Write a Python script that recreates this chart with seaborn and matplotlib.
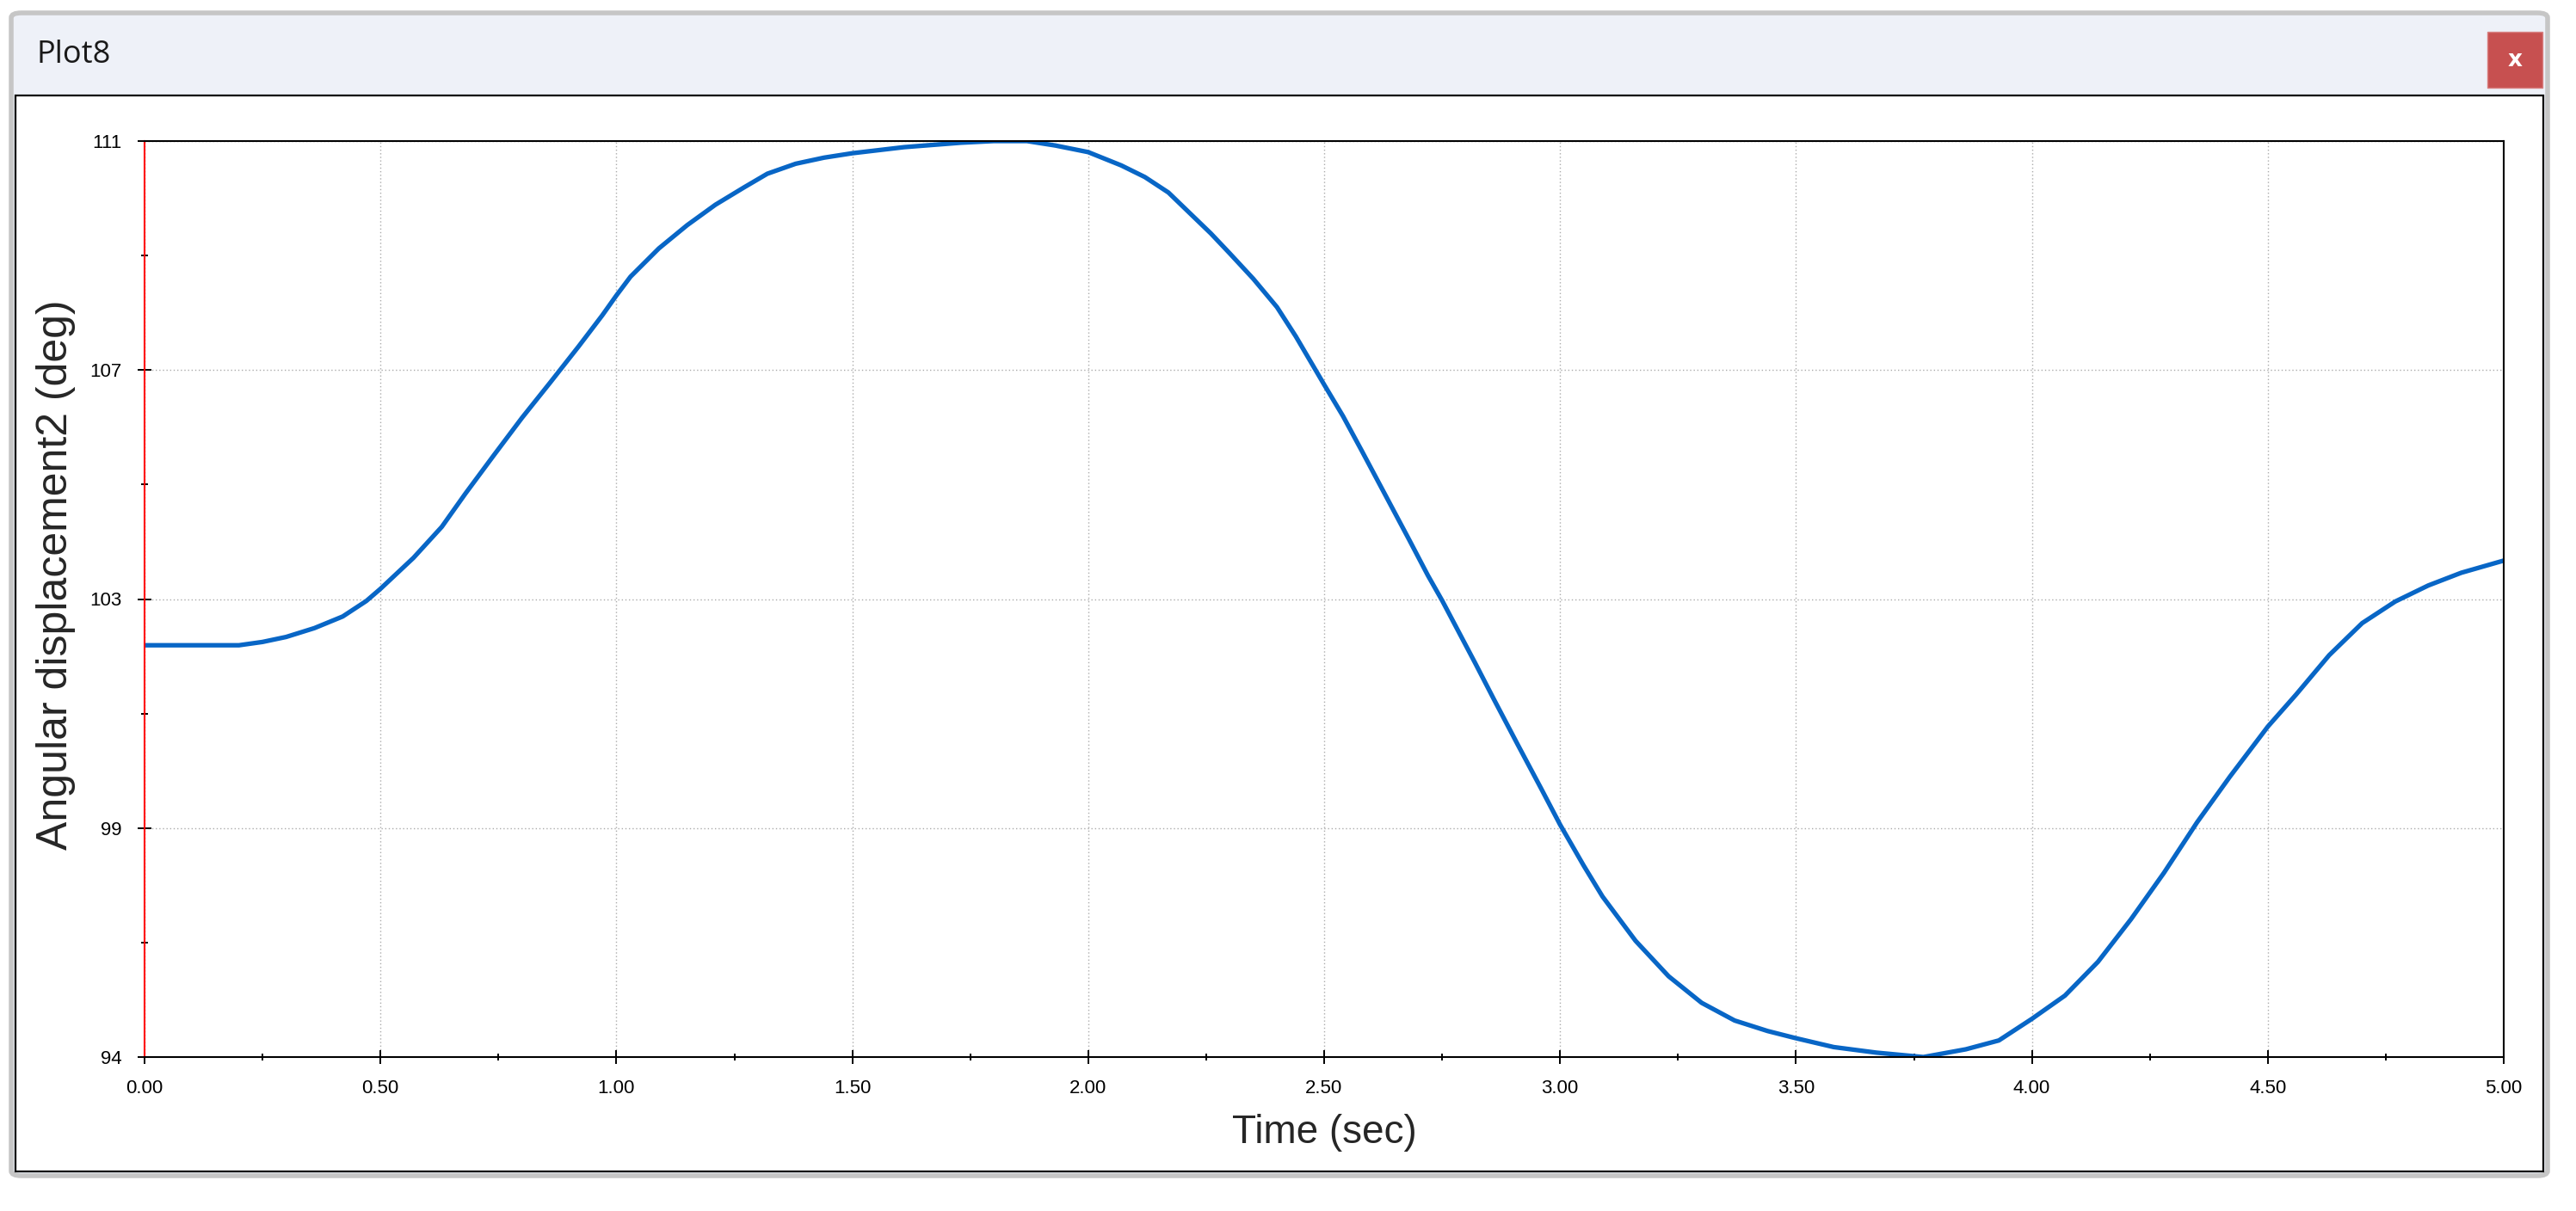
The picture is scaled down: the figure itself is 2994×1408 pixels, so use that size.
import numpy as np
import matplotlib
matplotlib.use('Agg')
import matplotlib.pyplot as plt
from matplotlib.patches import Rectangle, FancyBboxPatch
from matplotlib.ticker import FormatStrFormatter, MultipleLocator
import seaborn as sns

# time samples (sec)
time_s = [0.00, 0.20, 0.25, 0.30, 0.36, 0.42, 0.47, 0.50, 0.57, 0.63,
          0.68, 0.74, 0.80, 0.86, 0.92, 0.97, 1.00, 1.03, 1.09, 1.15,
          1.21, 1.27, 1.32, 1.38, 1.44, 1.50, 1.61, 1.73, 1.80, 1.87,
          1.93, 2.00, 2.07, 2.12, 2.17, 2.26, 2.30, 2.35, 2.40, 2.44,
          2.50, 2.54, 2.58, 2.63, 2.68, 2.72, 2.75, 2.82, 2.86, 2.91,
          2.96, 3.00, 3.05, 3.09, 3.16, 3.23, 3.30, 3.37, 3.44, 3.50,
          3.58, 3.67, 3.77, 3.86, 3.93, 4.00, 4.07, 4.14, 4.21, 4.28,
          4.35, 4.42, 4.50, 4.56, 4.63, 4.70, 4.77, 4.84, 4.91, 5.00]
# angular displacement (deg)
angle_deg = [101.84, 101.84, 101.90, 101.99, 102.15, 102.36, 102.64, 102.86, 103.42, 103.98,
             104.58, 105.27, 105.95, 106.59, 107.24, 107.80, 108.16, 108.50, 109.01, 109.43,
             109.80, 110.11, 110.36, 110.54, 110.65, 110.73, 110.84, 110.92, 110.95, 110.95,
             110.87, 110.75, 110.51, 110.30, 110.02, 109.28, 108.92, 108.46, 107.95, 107.42,
             106.55, 105.98, 105.35, 104.55, 103.75, 103.10, 102.65, 101.52, 100.86, 100.05,
             99.25, 98.60, 97.86, 97.30, 96.50, 95.86, 95.38, 95.06, 94.87, 94.74,
             94.58, 94.48, 94.40, 94.54, 94.70, 95.09, 95.51, 96.12, 96.89, 97.73,
             98.64, 99.47, 100.37, 100.95, 101.66, 102.24, 102.63, 102.92, 103.15, 103.37]
y_tick_labels = ['94', '99', '103', '107', '111']

title = 'Plot8'
x_label = 'Time (sec)'
y_label = 'Angular displacement2 (deg)'

sns.set_style('white')
plt.rcParams['font.family'] = ['Liberation Sans', 'DejaVu Sans']

W, H = 2994, 1408
fig = plt.figure(figsize=(W / 100, H / 100), dpi=100)
fig.patch.set_facecolor('white')


def fbox(x0, y0, x1, y1):
    # pixel box (top-left origin) -> figure fraction rect
    return (x0 / W, 1 - y1 / H), (x1 - x0) / W, (y1 - y0) / H


# window frame with title bar
(xy, w, h) = fbox(13, 15, 2961, 1367)
fig.patches.append(FancyBboxPatch(xy, w, h, boxstyle='round,pad=0,rounding_size=0.004',
                                  transform=fig.transFigure, facecolor='#EEF1F8',
                                  edgecolor='#C6C6C6', linewidth=4, zorder=-3))
(xy, w, h) = fbox(18, 111, 2956, 1362)
fig.patches.append(Rectangle(xy, w, h, transform=fig.transFigure, facecolor='white',
                             edgecolor='black', linewidth=1.6, zorder=-2))
# close button
(xy, w, h) = fbox(2891, 37, 2955, 102)
fig.patches.append(Rectangle(xy, w, h, transform=fig.transFigure, facecolor='#C75050',
                             edgecolor='#D88080', linewidth=1, zorder=-1))
fig.text(2923 / W, 1 - 70 / H, 'x', color='white', fontsize=19, fontweight='bold',
         ha='center', va='center', family=['DejaVu Sans'])
fig.text(42 / W, 1 - 64 / H, title, fontsize=26, color='#1A1A1A', ha='left', va='center',
         family=['Open Sans', 'DejaVu Sans'])

# plot area
ax = fig.add_axes([168 / W, 1 - 1229 / H, (2910 - 168) / W, (1229 - 164) / H])
ax.set_zorder(2)
ax.set_facecolor('white')

sns.lineplot(x=time_s, y=angle_deg, ax=ax, color='#0866C6', linewidth=3.8)

y_lo, y_hi = min(angle_deg), max(angle_deg)
ax.set_xlim(0, 5)
ax.set_ylim(y_lo, y_hi)
ax.xaxis.set_major_locator(MultipleLocator(0.5))
ax.xaxis.set_minor_locator(MultipleLocator(0.25))
ax.xaxis.set_major_formatter(FormatStrFormatter('%.2f'))
ax.set_yticks(np.linspace(y_lo, y_hi, 5))
ax.set_yticks(np.linspace(y_lo, y_hi, 9), minor=True)
ax.set_yticklabels(y_tick_labels)

ax.grid(True, which='major', color='#ABABAB', linestyle=(0, (1, 2)), linewidth=1.0)

for side in ['top', 'right', 'bottom']:
    ax.spines[side].set_color('black')
    ax.spines[side].set_linewidth(1.5)
ax.spines['left'].set_color('#FF0000')
ax.spines['left'].set_linewidth(1.5)

ax.tick_params(axis='both', which='major', direction='inout', length=12, width=1.4,
               labelsize=16, colors='black', pad=13)
ax.tick_params(axis='both', which='minor', direction='inout', length=6, width=1.4,
               colors='black')
ax.tick_params(axis='x', which='both', bottom=True, top=False)
ax.tick_params(axis='y', which='both', left=True, right=False)

ax.set_xlabel(x_label, fontsize=33)
ax.set_ylabel(y_label, fontsize=36)
ax.xaxis.set_label_coords(0.5, -0.062)
ax.yaxis.set_label_coords(-0.029, 0.527)

fig.savefig('out.png', dpi=100)
